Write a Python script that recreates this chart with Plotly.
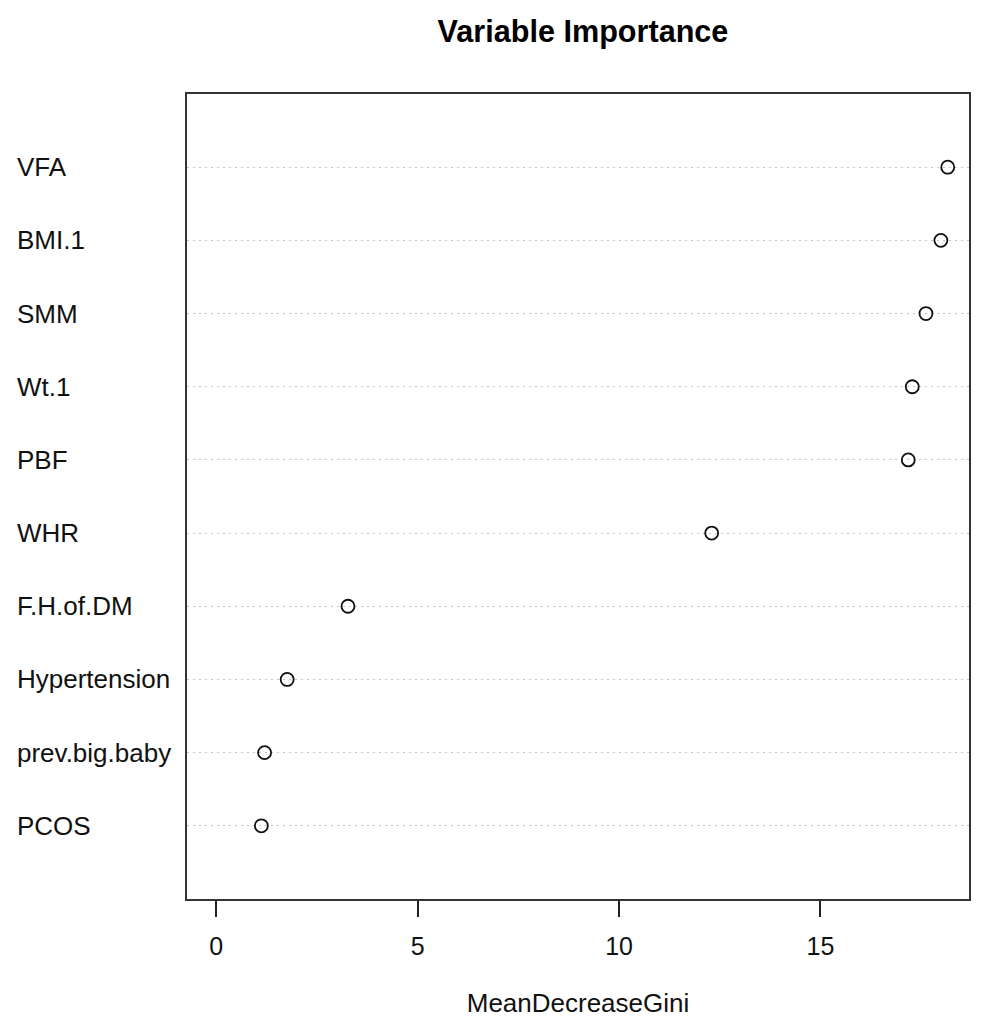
import plotly.graph_objects as go

variables = ["PCOS", "prev.big.baby", "Hypertension", "F.H.of.DM", "WHR",
             "PBF", "Wt.1", "SMM", "BMI.1", "VFA"]
gini = [1.12, 1.20, 1.76, 3.27, 12.30, 17.18, 17.28, 17.62, 17.99, 18.16]

# page body has an 8px margin, so the figure is offset by 8px
OFF = 8
L, T = 187 - OFF, 94 - OFF
FULL_PW = 792          # width the R-style range (0..max, +4%) would need
PW, PH = 784, 805      # visible plot width (keep the right frame on screen)
W, H = L + PW + 1, 1010
R = W - L - PW
B = H - T - PH
FONT = "Liberation Sans, Arial, Helvetica, sans-serif"

xmax = max(gini)
x0 = -0.04 * xmax
x1 = x0 + 1.08 * xmax * PW / FULL_PW
xr = [x0, x1]

fig = go.Figure()
fig.add_trace(go.Scatter(
    x=gini, y=variables, mode="markers",
    marker=dict(symbol="circle-open", size=13, color="#111111",
                line=dict(width=1.8, color="#111111")),
    showlegend=False, hoverinfo="x+y"))

for v in variables:
    fig.add_annotation(x=(15 - OFF - L) / PW, xref="paper", y=v, yref="y",
                       text=v, showarrow=False, xanchor="left", yanchor="middle",
                       font=dict(family=FONT, size=26, color="#111111"))

fig.update_layout(
    width=W, height=H,
    margin=dict(l=L, r=R, t=T, b=B),
    paper_bgcolor="white", plot_bgcolor="white",
    title=dict(text="<b>Variable Importance</b>", x=(583 - OFF) / W,
               xref="container", xanchor="center", y=1 - (31 - OFF) / H,
               yanchor="middle",
               font=dict(family=FONT, size=30.6, color="#000000")),
    font=dict(family=FONT, color="#111111"),
    xaxis=dict(range=xr, tickvals=[0, 5, 10, 15], ticks="outside",
               ticklen=16, tickwidth=1.5, tickcolor="#222222",
               ticklabelstandoff=8,
               showline=True, linecolor="#333333", linewidth=2, mirror=True,
               showgrid=False, zeroline=False,
               tickfont=dict(family=FONT, size=25, color="#111111"),
               title=dict(text="MeanDecreaseGini", standoff=38,
                          font=dict(family=FONT, size=26, color="#111111"))),
    yaxis=dict(type="category", categoryorder="array", categoryarray=variables,
               range=[-1, len(variables)], showticklabels=False, ticks="",
               showline=True, linecolor="#333333", linewidth=2, mirror=True,
               showgrid=True, gridcolor="#c4c4c4", griddash="2px,4px", gridwidth=1,
               zeroline=False),
)

fig.write_html("out.html")
